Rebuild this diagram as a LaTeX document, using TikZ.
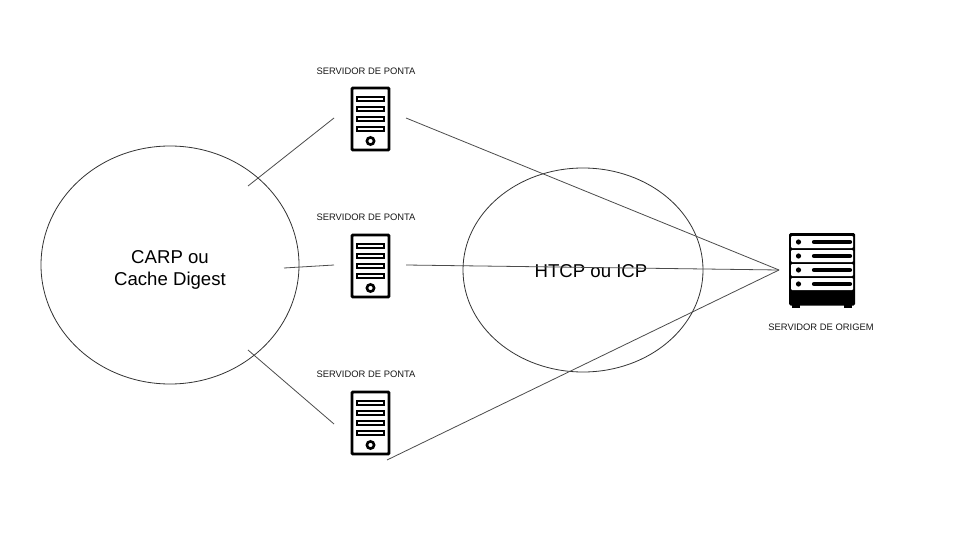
\documentclass[tikz,border=0pt]{standalone}
\usetikzlibrary{shapes.geometric}
\usepackage{fontspec}
\setmainfont{Liberation Sans}
\tikzset{
  wire/.style={draw=black!70,line width=0.8pt},
  bubble/.style={ellipse,draw=black!80,line width=0.8pt,inner sep=0pt,align=center,font=\fontsize{18.6pt}{22pt}\selectfont},
  smalllabel/.style={font=\fontsize{9.4pt}{11pt}\selectfont,inner sep=0pt,text=black!90},
  iconline/.style={draw=black,line width=2.9pt,rounded corners=1pt},
  slotline/.style={draw=black,line width=2.1pt},
  pics/tower/.style={code={
    \draw[iconline] (-18.5,-31) rectangle (18.5,31);
    \foreach \yy in {-22,-12,-2,8}{\draw[slotline] (-13.5,\yy) rectangle (13.5,\yy+4);}
    \draw[draw=black,line width=2.6pt] (0,22) circle[radius=3.6];
  }},
  pics/rack/.style={code={
    \fill[black,rounded corners=1.5pt] (-33,-37.5) rectangle (33,35);
    \fill[black] (-30,34) rectangle (-22,37.5);
    \fill[black] (22,34) rectangle (30,37.5);
    \foreach \yy in {-28.5,-14.5,-0.5,13.5}{
      \fill[white,rounded corners=1pt] (-31,\yy-6) rectangle (31,\yy+6);
      \fill[black] (-23.5,\yy) circle[radius=2.6];
      \draw[black,line width=4.2pt,line cap=round] (-8,\yy) -- (28,\yy);
    }
  }},
}
\begin{document}
\begin{tikzpicture}[x=1pt,y=-1pt]
\useasboundingbox (0,0) rectangle (960,540);
\fill[white] (0,0) rectangle (960,540);
\node[bubble,minimum width=258pt,minimum height=238pt] (carp) at (170,265) {};
\node[font=\fontsize{18.6pt}{22pt}\selectfont,inner sep=0pt,align=center] (carplabel) at (170,270) {CARP ou\\Cache Digest};
\node[bubble,minimum width=240pt,minimum height=204pt] (htcp) at (583,270) {};
\node[font=\fontsize{18.6pt}{22pt}\selectfont,inner sep=0pt] (htcplabel) at (591,271) {HTCP ou ICP};
\pic at (370.5,119) {tower};
\pic at (370.5,266) {tower};
\pic at (370.5,423) {tower};
\pic at (822,270.5) {rack};
\node[smalllabel] (l1) at (366,71) {SERVIDOR DE PONTA};
\node[smalllabel] (l2) at (366,217.5) {SERVIDOR DE PONTA};
\node[smalllabel] (l3) at (366,374.5) {SERVIDOR DE PONTA};
\node[smalllabel] (l4) at (821,327) {SERVIDOR DE ORIGEM};
\coordinate (hub) at (779,270);
\coordinate (a1) at (248,186);
\coordinate (a2) at (284,268);
\coordinate (a3) at (248,350);
\coordinate (t1w) at (334,118);
\coordinate (t2w) at (334,265);
\coordinate (t3w) at (334,424);
\coordinate (t1e) at (406,118);
\coordinate (t2e) at (406,265);
\coordinate (t3e) at (387,460);
\draw[wire] (a1) -- (t1w);
\draw[wire] (a2) -- (t2w);
\draw[wire] (a3) -- (t3w);
\draw[wire] (t1e) -- (hub);
\draw[wire] (t2e) -- (hub);
\draw[wire] (t3e) -- (hub);
\end{tikzpicture}
\end{document}
